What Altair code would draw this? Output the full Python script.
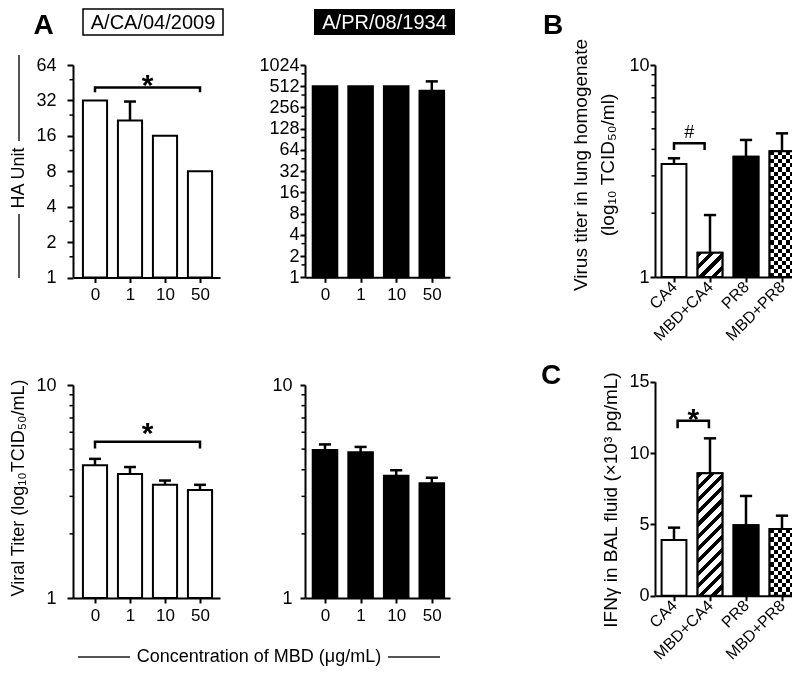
import math
import altair as alt

FONT = "Liberation Sans, Arial, Helvetica, sans-serif"
OFF = 8            # page margin
W, H = 784, 658    # whole canvas (800x674 window minus margins)


def P(v):
    """reference-image pixel -> chart pixel"""
    return v - OFF


# ------------------------------------------------------------------ data
conc_labels = ["0", "1", "10", "50"]
group_labels = ["CA4", "MBD+CA4", "PR8", "MBD+PR8"]

ca_ha = [32, 21.6, 16, 8]
ca_ha_err = [None, 31.3, None, None]
pr_ha = [512, 512, 512, 442]
pr_ha_err = [None, None, None, 600]

ca_titer = [4.20, 3.82, 3.40, 3.21]
ca_titer_err = [4.50, 4.12, 3.56, 3.40]
pr_titer = [4.95, 4.83, 3.75, 3.46]
pr_titer_err = [5.26, 5.12, 3.98, 3.67]

lung_titer = [3.41, 1.30, 3.69, 3.92]
lung_titer_err = [3.63, 1.96, 4.43, 4.76]
ifng = [3.90, 8.58, 4.93, 4.67]
ifng_err = [4.77, 11.03, 6.99, 5.61]

# significance brackets: [x start, x end, top level, foot level]
ca_ha_bracket = [0, 3, 41.3, 37.5]
ca_titer_bracket = [0, 3, 5.42, 5.04]
lung_bracket = [0, 0.85, 4.27, 3.97]
ifng_bracket = [0.1, 0.97, 12.26, 11.73]

ticks_64 = [1, 2, 4, 8, 16, 32, 64]
minor_64 = [1.5, 3, 6, 12, 24, 48]
ticks_1024 = [1, 2, 4, 8, 16, 32, 64, 128, 256, 512, 1024]
minor_1024 = [1.5, 3, 6, 12, 24, 48, 96, 192, 384, 768]
ticks_log10 = [1, 10]
minor_log10 = [2, 3, 4, 5, 6, 7, 8, 9]
ticks_lin = [0, 5, 10, 15]

# ------------------------------------------------------------------ layout (reference pixels)
GEOM = {
    "A1": dict(ax=73, xr=220, c0=95, step=35.0, yb=277.5, yt=65, lpad=11, tick=6),
    "A2": dict(ax=305, xr=450, c0=325, step=35.6, yb=277.3, yt=65, lpad=1, tick=5),
    "A3": dict(ax=73, xr=220, c0=95, step=35.0, yb=598, yt=385, lpad=11, tick=6),
    "A4": dict(ax=305, xr=450, c0=325, step=35.6, yb=598, yt=385, lpad=8, tick=5),
    "B": dict(ax=655, xr=800, c0=674, step=36.0, yb=277, yt=65, lpad=1, tick=5),
    "C": dict(ax=655, xr=800, c0=674, step=36.0, yb=595.7, yt=381.7, lpad=1, tick=5),
}
HALF = 0.345   # half bar width (in category units)
CAP = 0.17     # half error-cap width
ONE = alt.Data(values=[{"k": 0}])


def bar_px_height(v, g, ytype, ydom):
    span = g["yb"] - g["yt"]
    if ytype == "linear":
        return (v - ydom[0]) / (ydom[1] - ydom[0]) * span
    return (math.log(v) - math.log(ydom[0])) / (math.log(ydom[1]) - math.log(ydom[0])) * span


def hatch_fill(w, h, period=12.5, duty=0.42):
    n = max(1, round((w + h) / period))
    stops = []
    for i in range(n):
        a, b, c = i / n, (i + duty) / n, (i + 1) / n
        stops += [alt.GradientStop(offset=a, color="black"),
                  alt.GradientStop(offset=b, color="black"),
                  alt.GradientStop(offset=b, color="white"),
                  alt.GradientStop(offset=c, color="white")]
    k = (w + h) / (w * w + h * h)
    return alt.LinearGradient(gradient="linear", stops=stops, x1=0, y1=0, x2=w * k, y2=h * k)


def stripe_fill(n, vertical):
    stops = []
    for i in range(n):
        col = "black" if i % 2 == 0 else "white"
        stops += [alt.GradientStop(offset=i / n, color=col),
                  alt.GradientStop(offset=(i + 1) / n, color=col)]
    if vertical:
        return alt.LinearGradient(gradient="linear", stops=stops, x1=0, y1=0, x2=1, y2=0)
    return alt.LinearGradient(gradient="linear", stops=stops, x1=0, y1=0, x2=0, y2=1)


def panel(g, vals, errs, ytype, ydom, majors, minors, xlabels, fills,
          bracket=None, sym="", sym_dy=0, sym_size=30, sym_weight="bold", angled=False):
    n = len(vals)
    rows = [{"pos": i, "val": v, "err": e} for i, (v, e) in enumerate(zip(vals, errs))]
    data = alt.Data(values=rows)

    xs = alt.Scale(domain=[(g["ax"] - g["c0"]) / g["step"], (g["xr"] - g["c0"]) / g["step"]],
                   range=[P(g["ax"]), P(g["xr"])], nice=False, zero=False)
    if ytype == "linear":
        ys = alt.Scale(type="linear", domain=ydom, range=[P(g["yb"]), P(g["yt"])], nice=False)
    else:
        ys = alt.Scale(type="log", base=ytype, domain=ydom, range=[P(g["yb"]), P(g["yt"])], nice=False)

    lab_expr = "[" + ",".join(repr(s) for s in xlabels) + "][datum.value]"
    xaxis_kw = dict(values=list(range(n)), labelExpr=lab_expr, orient="bottom",
                    offset=P(g["yb"]) - H, tickSize=5, tickWidth=2, domainWidth=2,
                    domainColor="black", tickColor="black", labelColor="black",
                    labelFont=FONT, labelFontSize=17, labelPadding=4, grid=False, title=None,
                    labelFlush=False, labelOverlap=False, labelBound=False)
    if angled:
        xaxis_kw.update(labelAngle=315, labelAlign="right", labelBaseline="middle",
                        labelFontSize=16, labelPadding=2)
    xaxis = alt.Axis(**xaxis_kw)
    yaxis = alt.Axis(values=majors, format="d", orient="left", offset=-P(g["ax"]),
                     tickSize=g["tick"], tickWidth=2, domainWidth=2, domainColor="black",
                     tickColor="black", labelColor="black", labelFont=FONT, labelFontSize=18,
                     labelPadding=g["lpad"], grid=False, title=None, labelFlush=False,
                     labelOverlap=False, labelBound=False)

    def X(field):
        return alt.X(field, scale=xs, axis=xaxis)

    def Y(field):
        return alt.Y(field, scale=ys, axis=yaxis)

    base = alt.Chart(data).transform_calculate(
        lo=f"datum.pos - {HALF}", hi=f"datum.pos + {HALF}", base=str(ydom[0]),
        clo=f"datum.pos - {CAP}", chi=f"datum.pos + {CAP}")

    def rect(fill, **kw):
        return base.mark_rect(fill=fill, **kw).encode(
            x=X("lo:Q"), x2="hi:Q", y=Y("val:Q"), y2="base:Q")

    layers = []
    first = fills[0] if fills[0] in ("white", "black") else "white"
    layers.append(rect(first, stroke="black", strokeWidth=2))
    w = 2 * HALF * g["step"]
    for i, f in enumerate(fills):
        if f == first:
            continue
        h = bar_px_height(vals[i], g, ytype, ydom)
        sel = f"datum.pos == {i}"
        if f in ("white", "black"):
            layers.append(rect(f, stroke="black", strokeWidth=2).transform_filter(sel))
        elif f == "hatch":
            layers.append(rect(hatch_fill(w, h), stroke="black", strokeWidth=2).transform_filter(sel))
        elif f == "checker":
            cols = max(2, round(w / 4.1))
            rws = max(2, round(h / 4.1))
            layers.append(rect(stripe_fill(cols, True), strokeWidth=0).transform_filter(sel))
            layers.append(rect(stripe_fill(rws, False), strokeWidth=0, blend="difference")
                          .transform_filter(sel))
            layers.append(rect("transparent", stroke="black", strokeWidth=2).transform_filter(sel))

    errbase = base.transform_filter("isValid(datum.err)")
    layers.append(errbase.mark_rule(color="black", strokeWidth=2.5).encode(
        x=X("pos:Q"), y=Y("val:Q"), y2="err:Q"))
    layers.append(errbase.mark_rule(color="black", strokeWidth=2.5).encode(
        x=X("clo:Q"), x2="chi:Q", y=Y("err:Q")))

    if minors:
        layers.append(alt.Chart(alt.Data(values=[{"m": m} for m in minors]))
                      .mark_rule(color="black", strokeWidth=1.5).encode(
            y=Y("m:Q"), x=alt.value(P(g["ax"]) - 3.5), x2=alt.value(P(g["ax"]))))

    if bracket:
        x0, x1, top, foot = bracket
        bpts = [{"bx": x0, "by": foot, "o": 0}, {"bx": x0, "by": top, "o": 1},
                {"bx": x1, "by": top, "o": 2}, {"bx": x1, "by": foot, "o": 3}]
        layers.append(alt.Chart(alt.Data(values=bpts)).mark_line(
            color="black", strokeWidth=2.5, strokeJoin="miter").encode(
            x=X("bx:Q"), y=Y("by:Q"), order="o:Q"))
        layers.append(alt.Chart(alt.Data(values=[{"sx": (x0 + x1) / 2, "sy": top}])).mark_text(
            text=sym, font=FONT, fontSize=sym_size, fontWeight=sym_weight, color="black",
            align="center", baseline="alphabetic", dy=sym_dy).encode(
            x=X("sx:Q"), y=Y("sy:Q")))
    return alt.layer(*layers)


panels = [
    panel(GEOM["A1"], ca_ha, ca_ha_err, 2, [1, 64], ticks_64, minor_64, conc_labels,
          ["white"] * 4, ca_ha_bracket, "*", 7.5),
    panel(GEOM["A2"], pr_ha, pr_ha_err, 2, [1, 1024], ticks_1024, minor_1024, conc_labels,
          ["black"] * 4),
    panel(GEOM["A3"], ca_titer, ca_titer_err, 10, [1, 10], ticks_log10, minor_log10, conc_labels,
          ["white"] * 4, ca_titer_bracket, "*", 1),
    panel(GEOM["A4"], pr_titer, pr_titer_err, 10, [1, 10], ticks_log10, minor_log10, conc_labels,
          ["black"] * 4),
    panel(GEOM["B"], lung_titer, lung_titer_err, 10, [1, 10], ticks_log10, minor_log10, group_labels,
          ["white", "hatch", "black", "checker"], lung_bracket, "#", -5, sym_size=18,
          sym_weight="normal", angled=True),
    panel(GEOM["C"], ifng, ifng_err, "linear", [0, 15], ticks_lin, [], group_labels,
          ["white", "hatch", "black", "checker"], ifng_bracket, "*", 8, angled=True),
]


def label(text, x, y, size, angle=0, weight="normal", color="black", baseline="middle",
          line_height=None):
    kw = dict(text=text, font=FONT, fontSize=size, angle=angle, fontWeight=weight,
              color=color, align="center", baseline=baseline)
    if line_height:
        kw["lineHeight"] = line_height
    return alt.Chart(ONE).mark_text(**kw).encode(x=alt.value(P(x)), y=alt.value(P(y)))


def box(x0, x1, y0, y1, fill, stroke=None):
    kw = dict(fill=fill)
    if stroke:
        kw.update(stroke=stroke, strokeWidth=1.5)
    return alt.Chart(ONE).mark_rect(**kw).encode(
        x=alt.value(P(x0)), x2=alt.value(P(x1)), y=alt.value(P(y0)), y2=alt.value(P(y1)))


def gline(x0, x1, y0, y1):
    return alt.Chart(ONE).mark_rule(color="#555555", strokeWidth=2).encode(
        x=alt.value(P(x0)), x2=alt.value(P(x1)), y=alt.value(P(y0)), y2=alt.value(P(y1)))


annots = [
    label("A", 43.5, 34, 28, weight="bold", baseline="alphabetic"),
    label("B", 553, 34, 28, weight="bold", baseline="alphabetic"),
    label("C", 551, 384, 28, weight="bold", baseline="alphabetic"),
    box(83, 223, 9, 35, "white", stroke="black"),
    label("A/CA/04/2009", 153, 22.5, 20),
    box(314, 455, 9, 35, "black"),
    label("A/PR/08/1934", 384.5, 22.5, 20, color="white"),
    gline(19, 19, 55, 141),
    gline(19, 19, 214, 278),
    label("HA Unit", 19, 178, 18, angle=270),
    label("Viral  Titer (log\u2081\u2080TCID\u2085\u2080/mL)", 19, 488, 18, angle=270),
    gline(78, 130, 657, 657),
    gline(388, 440, 657, 657),
    label("Concentration of MBD (\u03bcg/mL)", 259, 657, 18),
    label(["Virus titer in lung homogenate", "(log\u2081\u2080 TCID\u2085\u2080/ml)"],
          581, 165, 19, angle=270, line_height=27),
    label("IFN\u03b3 in BAL fluid (\u00d710\u00b3 pg/mL)", 611, 500, 19, angle=270),
]

chart = alt.layer(*panels, *annots).resolve_scale(
    x="independent", y="independent"
).properties(
    width=W, height=H, autosize=alt.AutoSizeParams(type="none"), padding=0, background="white"
).configure_view(stroke=None)

chart.save("out.html", embed_options={"renderer": "svg", "actions": False})
